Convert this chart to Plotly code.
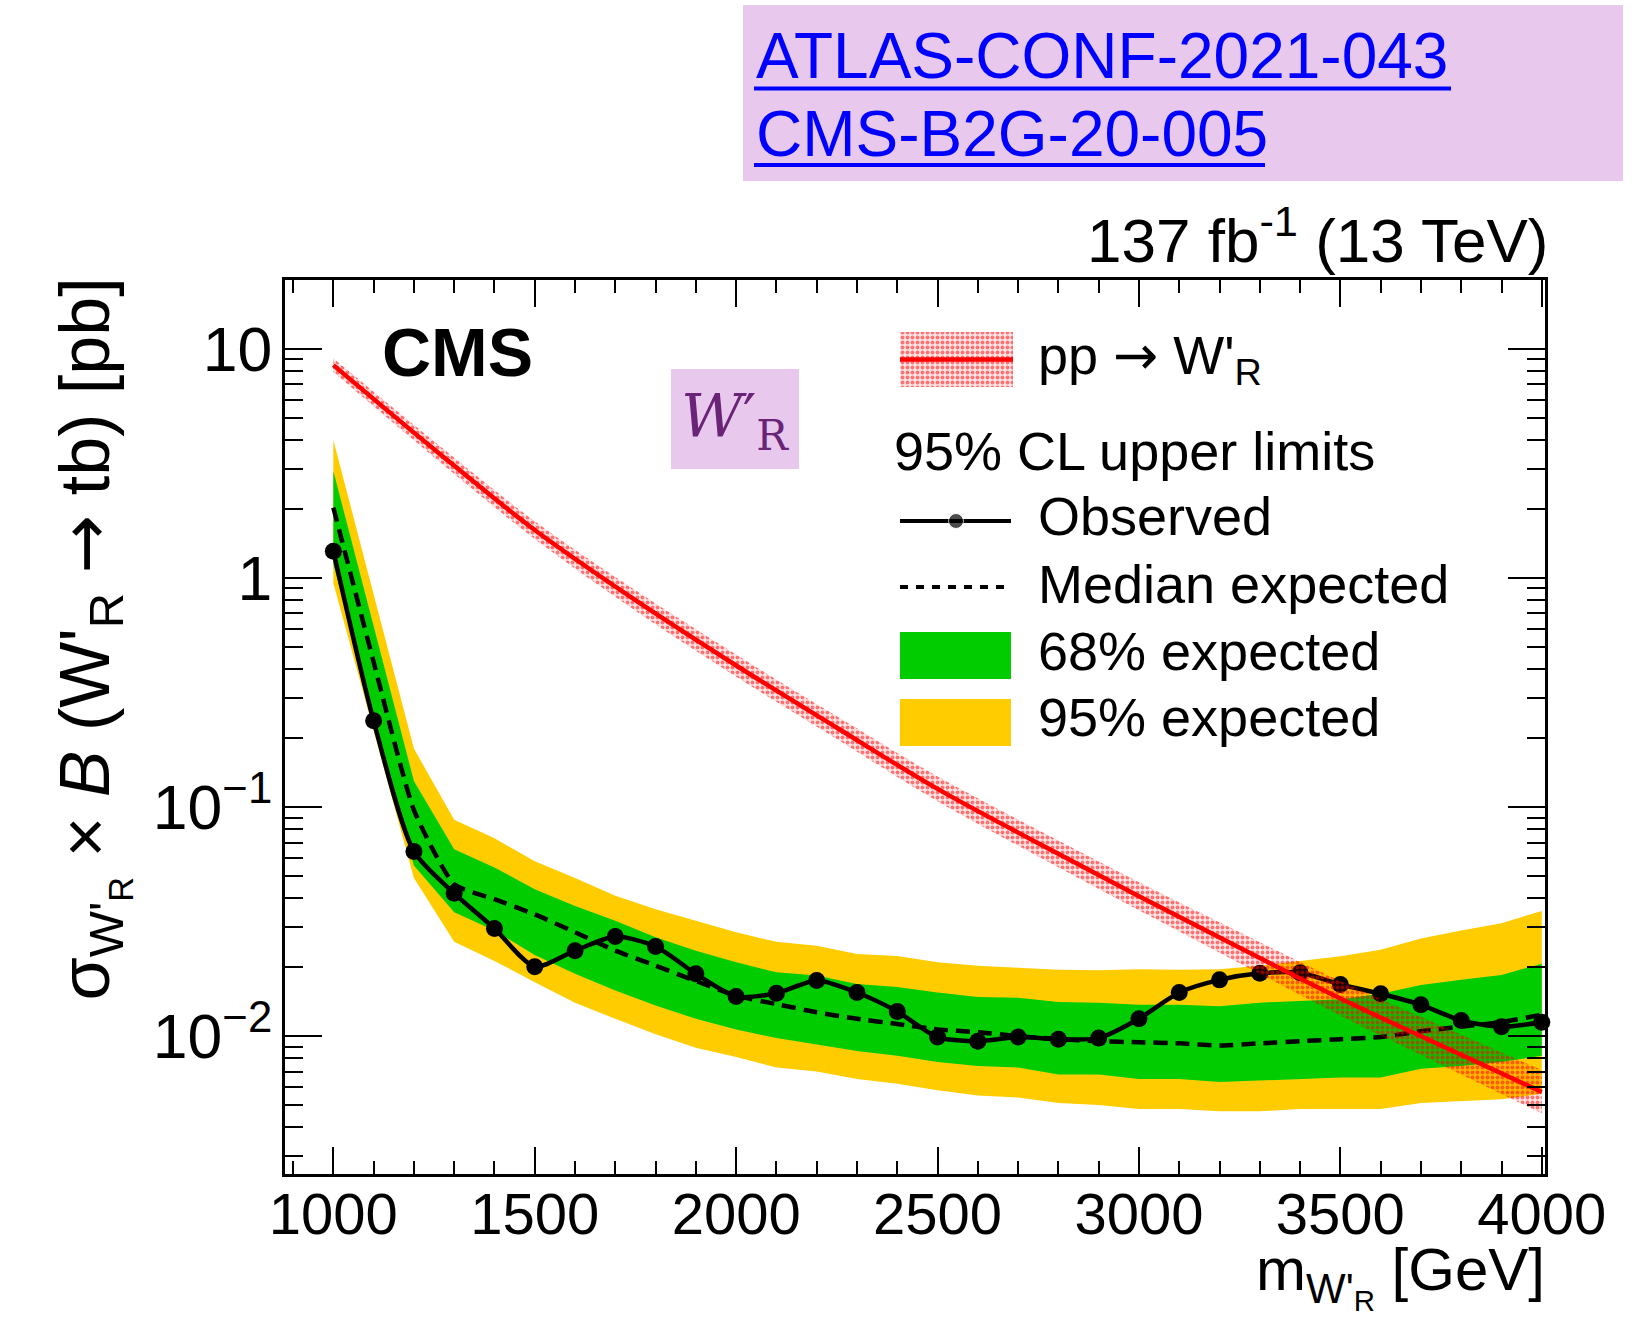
import plotly.graph_objects as go

# ---------------- data ----------------
mass = [1000, 1100, 1200, 1300, 1400, 1500, 1600, 1700, 1800, 1900,
        2000, 2100, 2200, 2300, 2400, 2500, 2600, 2700, 2800, 2900,
        3000, 3100, 3200, 3300, 3400, 3500, 3600, 3700, 3800, 3900, 4000]

observed = [1.31, 0.238, 0.064, 0.042, 0.0295, 0.0201, 0.0236, 0.0272, 0.0246, 0.0187,
            0.0149, 0.0154, 0.0175, 0.0155, 0.0128, 0.0099, 0.0095, 0.0099, 0.0097, 0.0098,
            0.0119, 0.0155, 0.0176, 0.0188, 0.0189, 0.0168, 0.0153, 0.0137, 0.0117, 0.0110, 0.0115]

expected_median = [2.03, 0.43, 0.097, 0.046, 0.0396, 0.034, 0.0284, 0.0236, 0.0203, 0.0174,
                   0.0150, 0.0138, 0.0127, 0.0119, 0.0113, 0.0107, 0.0104, 0.0100, 0.0097, 0.0095,
                   0.0094, 0.0093, 0.0091, 0.0093, 0.0095, 0.0097, 0.0099, 0.0105, 0.0110, 0.0115, 0.0124]

exp68_up = [2.93, 0.62, 0.13, 0.0655, 0.0545, 0.0438, 0.037, 0.0319, 0.027, 0.0236,
            0.0210, 0.0190, 0.0184, 0.0169, 0.0164, 0.0155, 0.0148, 0.0147, 0.0141, 0.0140,
            0.0137, 0.0137, 0.0135, 0.0140, 0.0143, 0.0145, 0.0153, 0.0167, 0.0176, 0.0185, 0.0207]

exp68_lo = [1.15, 0.255, 0.0556, 0.0347, 0.0289, 0.0226, 0.0187, 0.0158, 0.0136, 0.0119,
            0.0107, 0.0098, 0.0092, 0.0086, 0.0082, 0.0077, 0.0074, 0.0073, 0.0068, 0.0068,
            0.0065, 0.0065, 0.0063, 0.0064, 0.0065, 0.0066, 0.0066, 0.0072, 0.0074, 0.0077, 0.0082]

exp95_up = [4.0, 0.85, 0.18, 0.088, 0.073, 0.058, 0.049, 0.041, 0.0358, 0.0319,
            0.0284, 0.0258, 0.0248, 0.0228, 0.0224, 0.0210, 0.0203, 0.0199, 0.0195, 0.0194,
            0.0196, 0.0195, 0.0196, 0.0203, 0.0213, 0.0223, 0.0238, 0.0267, 0.0289, 0.0311, 0.0352]

exp95_lo = [0.95, 0.215, 0.049, 0.0258, 0.0213, 0.0172, 0.0140, 0.0119, 0.0102, 0.0089,
            0.0081, 0.0073, 0.0070, 0.0065, 0.0062, 0.0058, 0.0055, 0.0054, 0.0051, 0.0050,
            0.0048, 0.0048, 0.0047, 0.0047, 0.0048, 0.0048, 0.0048, 0.0051, 0.0052, 0.0053, 0.0056]

theory_mass = [1000, 1250, 1500, 1750, 2000, 2250, 2500, 2750, 3000, 3250, 3500, 3750, 4000]
theory_xsec = [8.5, 3.65, 1.62, 0.80, 0.415, 0.222, 0.120, 0.0695, 0.0408, 0.0243, 0.0146, 0.0091, 0.0057]
theory_up = [9.1, 3.95, 1.77, 0.885, 0.463, 0.249, 0.136, 0.0794, 0.0470, 0.0284, 0.0174, 0.0111, 0.0071]
theory_lo = [7.93, 3.37, 1.48, 0.72, 0.371, 0.198, 0.106, 0.0608, 0.0354, 0.0208, 0.0123, 0.0075, 0.0046]

x_tick_values = [1000, 1500, 2000, 2500, 3000, 3500, 4000]

# ---------------- geometry helpers (pixel -> paper) ----------------
W, H = 1639, 1317
L, R, T, B = 285, 1545, 280, 1174


def PX(x):
    return (x - L) / (R - L)


def PY(y):
    return (B - y) / (B - T)


FONT = "Liberation Sans, Arial, Helvetica, sans-serif"
GREEN = "#00CC00"
YELLOW = "#FFCC00"
RED = "#FF0000"
ARROW = "<span style='font-family:DejaVu Sans'>→</span>"

fig = go.Figure()

# 95% band
fig.add_trace(go.Scatter(x=mass, y=exp95_lo, mode="lines", line=dict(width=0, color=YELLOW),
                         showlegend=False, hoverinfo="skip"))
fig.add_trace(go.Scatter(x=mass, y=exp95_up, mode="lines", line=dict(width=0, color=YELLOW),
                         fill="tonexty", fillcolor=YELLOW, showlegend=False, hoverinfo="skip"))
# 68% band
fig.add_trace(go.Scatter(x=mass, y=exp68_lo, mode="lines", line=dict(width=0, color=GREEN),
                         showlegend=False, hoverinfo="skip"))
fig.add_trace(go.Scatter(x=mass, y=exp68_up, mode="lines", line=dict(width=0, color=GREEN),
                         fill="tonexty", fillcolor=GREEN, showlegend=False, hoverinfo="skip"))
# median expected
fig.add_trace(go.Scatter(x=mass, y=expected_median, mode="lines",
                         line=dict(color="black", width=4.5, dash="14px,8px", shape="spline", smoothing=0.5),
                         showlegend=False))
# observed
fig.add_trace(go.Scatter(x=mass, y=observed, mode="lines+markers",
                         line=dict(color="black", width=4.5, shape="spline", smoothing=0.7),
                         marker=dict(color="black", size=17, symbol="circle"),
                         cliponaxis=False, showlegend=False))
# theory band (dotted hatch) and line
fig.add_trace(go.Scatter(x=theory_mass, y=theory_lo, mode="lines",
                         line=dict(width=0, color=RED, shape="spline", smoothing=1.0),
                         showlegend=False, hoverinfo="skip"))
fig.add_trace(go.Scatter(x=theory_mass, y=theory_up, mode="lines",
                         line=dict(width=0, color=RED, shape="spline", smoothing=1.0),
                         fill="tonexty", fillcolor="rgba(255,0,0,0.12)",
                         fillpattern=dict(shape=".", fgcolor=RED, bgcolor="rgba(255,0,0,0.10)",
                                          size=5, solidity=0.45),
                         showlegend=False, hoverinfo="skip"))
fig.add_trace(go.Scatter(x=theory_mass, y=theory_xsec, mode="lines",
                         line=dict(color=RED, width=4.5, shape="spline", smoothing=1.0),
                         showlegend=False))

# ---------------- legend glyphs on a pixel-space overlay axis ----------------
def box(x0, y0, x1, y1):
    return [x0, x1, x1, x0, x0], [y0, y0, y1, y1, y0]


bx, by = box(900, 332, 1013, 387)
fig.add_trace(go.Scatter(x=bx, y=by, xaxis="x2", yaxis="y2", mode="lines", line=dict(width=0),
                         fill="toself", fillcolor="rgba(255,0,0,0.12)",
                         fillpattern=dict(shape=".", fgcolor=RED, bgcolor="rgba(255,0,0,0.10)",
                                          size=5, solidity=0.45),
                         showlegend=False, hoverinfo="skip"))
fig.add_trace(go.Scatter(x=[900, 1013], y=[359.5, 359.5], xaxis="x2", yaxis="y2", mode="lines",
                         line=dict(color=RED, width=4.5), showlegend=False, hoverinfo="skip"))
fig.add_trace(go.Scatter(x=[900, 956, 1011], y=[521, 521, 521], xaxis="x2", yaxis="y2",
                         mode="lines+markers", line=dict(color="black", width=4),
                         marker=dict(color="black", size=[0, 15, 0]),
                         showlegend=False, hoverinfo="skip"))
fig.add_trace(go.Scatter(x=[900, 1011], y=[587, 587], xaxis="x2", yaxis="y2", mode="lines",
                         line=dict(color="black", width=4, dash="8px,8px"),
                         showlegend=False, hoverinfo="skip"))
gx, gy = box(900, 632, 1011, 679)
fig.add_trace(go.Scatter(x=gx, y=gy, xaxis="x2", yaxis="y2", mode="lines", line=dict(width=0),
                         fill="toself", fillcolor=GREEN, showlegend=False, hoverinfo="skip"))
yx, yy = box(900, 699, 1011, 746)
fig.add_trace(go.Scatter(x=yx, y=yy, xaxis="x2", yaxis="y2", mode="lines", line=dict(width=0),
                         fill="toself", fillcolor=YELLOW, showlegend=False, hoverinfo="skip"))

# ---------------- annotations ----------------
ann = []


def text(x, y, s, size, xanchor="left", yanchor="middle", color="black", family=FONT, angle=0):
    ann.append(dict(x=PX(x), y=PY(y), xref="paper", yref="paper", text=s, showarrow=False,
                    xanchor=xanchor, yanchor=yanchor, textangle=angle,
                    font=dict(size=size, color=color, family=family)))


text(754, 56, "ATLAS-CONF-2021-043", 64, color="#0000FF")
text(754, 134, "CMS-B2G-20-005", 64, color="#0000FF")
text(1550, 236, "137 fb<sup>-1</sup> (13 TeV)", 62, xanchor="right")
text(380, 352, "<b>CMS</b>", 68)
text(735, 420, "<i>W</i>′<sub>R</sub>", 60, xanchor="center", color="#6A2477",
     family="DejaVu Serif, Liberation Serif, serif")
text(1036, 358, "pp " + ARROW + " W'<sub>R</sub>", 54)
text(892, 451, "95% CL upper limits", 54)
text(1036, 516, "Observed", 54)
text(1036, 584, "Median expected", 54)
text(1036, 651, "68% expected", 54)
text(1036, 717, "95% expected", 54)
text(1547, 1276, "m<sub>W'<sub>R</sub></sub> [GeV]", 60, xanchor="right")
text(92, 276, "σ<sub>W'<sub>R</sub></sub> × <i>B</i> (W'<sub>R</sub> " + ARROW + " tb) [pb]", 70,
     xanchor="center", yanchor="top", angle=-90)

shapes = [
    dict(type="rect", xref="paper", yref="paper", x0=PX(743), x1=PX(1623), y0=PY(5), y1=PY(181),
         fillcolor="#E9C8EE", line=dict(width=0), layer="below"),
    dict(type="line", xref="paper", yref="paper", x0=PX(754), x1=PX(1451), y0=PY(88.5), y1=PY(88.5),
         line=dict(color="#0000FF", width=4)),
    dict(type="line", xref="paper", yref="paper", x0=PX(754), x1=PX(1265), y0=PY(165), y1=PY(165),
         line=dict(color="#0000FF", width=4)),
    dict(type="rect", xref="paper", yref="paper", x0=PX(671), x1=PX(799), y0=PY(369), y1=PY(469),
         fillcolor="#E9C8EE", line=dict(width=0), layer="below"),
]

axis_common = dict(showline=True, linewidth=2.5, linecolor="black", mirror="allticks",
                   ticks="inside", tickcolor="black", tickwidth=2, showgrid=False, zeroline=False,
                   automargin=False)

fig.update_layout(
    width=W, height=H,
    margin=dict(l=L, r=W - R, t=T, b=H - B, pad=0),
    paper_bgcolor="white", plot_bgcolor="white",
    showlegend=False,
    annotations=ann,
    shapes=shapes,
    xaxis=dict(range=[880, 4008], tickvals=x_tick_values, ticklen=27,
               tickfont=dict(size=58, family=FONT, color="black"), ticklabelstandoff=-12,
               minor=dict(ticks="inside", dtick=100, tick0=1000, ticklen=13, tickwidth=2,
                          tickcolor="black", showgrid=False),
               **axis_common),
    yaxis=dict(type="log", range=[-2.602, 1.301], dtick=1, exponentformat="power", ticklen=37,
               tickfont=dict(size=50, family=FONT, color="black"), ticklabelstandoff=0,
               minor=dict(ticks="inside", dtick="D1", ticklen=18, tickwidth=2,
                          tickcolor="black", showgrid=False),
               **axis_common),
    xaxis2=dict(overlaying="x", anchor="y2", range=[L, R], visible=False, showgrid=False),
    yaxis2=dict(overlaying="y", anchor="x2", range=[B, T], visible=False, showgrid=False),
)

fig.write_html("out.html", config={"displayModeBar": False})
